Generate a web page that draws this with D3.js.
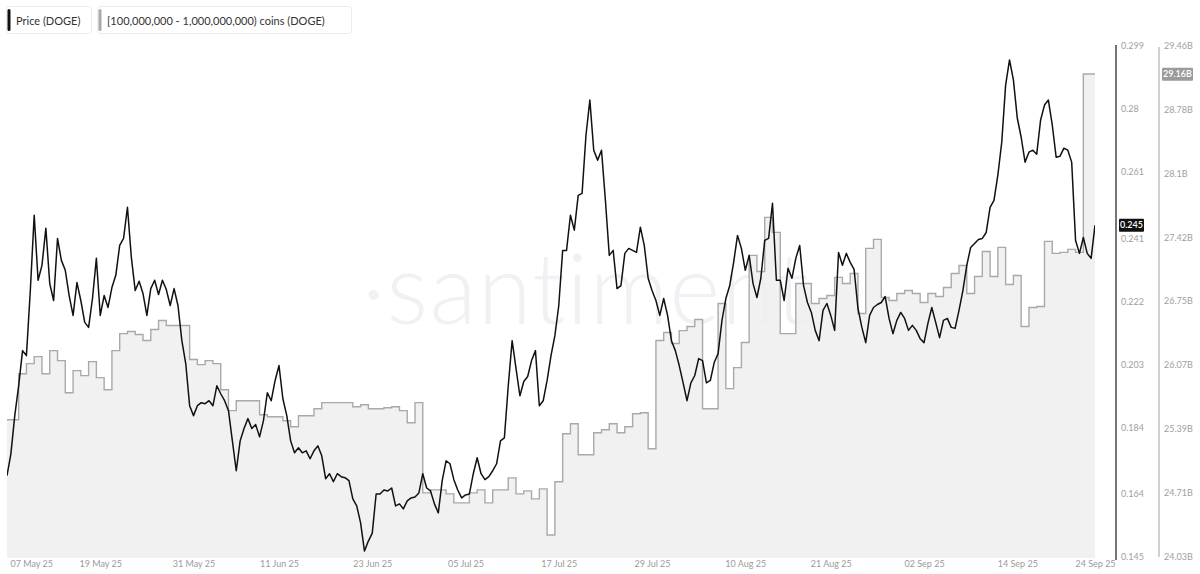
<!DOCTYPE html>
<html><head><meta charset="utf-8">
<script src="https://cdn.jsdelivr.net/npm/d3@7"></script>
<style>
html,body{margin:0;padding:0;background:#fff;}
svg{display:block;font-family:Lato,"Liberation Sans",Arial,sans-serif;}
</style></head><body>
<svg id="chart" width="1200" height="574"></svg>
<script>
// ---------- DATA ----------
const seriesNames = ["Price (DOGE)", "[100,000,000 - 1,000,000,000) coins (DOGE)"];

// DOGE price (USD), one reading every 12 hours from 07 May 2025 00:00
const priceStart = "2025-05-07T00:00:00";
const priceStepHours = 12;
const priceValues = [
  0.1695,0.1761,0.1876,0.1966,0.2072,0.2057,0.2253,0.2480,0.2284,0.2329,
  0.2441,0.2274,0.2223,0.2410,0.2344,0.2314,0.2238,0.2178,0.2277,0.2223,
  0.2157,0.2142,0.2229,0.2350,0.2178,0.2238,0.2202,0.2262,0.2299,0.2389,
  0.2410,0.2504,0.2353,0.2253,0.2281,0.2244,0.2178,0.2259,0.2284,0.2241,
  0.2284,0.2256,0.2208,0.2259,0.2208,0.2102,0.2033,0.1906,0.1876,0.1906,
  0.1915,0.1912,0.1921,0.1906,0.1966,0.1942,0.1921,0.1891,0.1800,0.1710,
  0.1800,0.1837,0.1867,0.1837,0.1849,0.1812,0.1861,0.1945,0.1921,0.1982,
  0.2027,0.1927,0.1876,0.1800,0.1764,0.1779,0.1764,0.1770,0.1746,0.1770,
  0.1785,0.1755,0.1686,0.1701,0.1677,0.1701,0.1692,0.1689,0.1680,0.1625,
  0.1604,0.1553,0.1468,0.1498,0.1522,0.1640,0.1640,0.1652,0.1649,0.1658,
  0.1604,0.1610,0.1595,0.1619,0.1628,0.1631,0.1643,0.1701,0.1658,0.1649,
  0.1610,0.1583,0.1680,0.1740,0.1731,0.1683,0.1652,0.1628,0.1637,0.1640,
  0.1701,0.1749,0.1701,0.1683,0.1692,0.1710,0.1731,0.1800,0.1809,0.1966,
  0.2102,0.2018,0.1936,0.1979,0.1994,0.2042,0.2072,0.1906,0.1921,0.1982,
  0.2057,0.2117,0.2208,0.2374,0.2374,0.2480,0.2435,0.2540,0.2546,0.2721,
  0.2827,0.2676,0.2646,0.2676,0.2525,0.2359,0.2374,0.2259,0.2268,0.2365,
  0.2380,0.2374,0.2368,0.2444,0.2389,0.2290,0.2253,0.2223,0.2178,0.2229,
  0.2178,0.2102,0.2072,0.2027,0.1975,0.1921,0.1975,0.1997,0.2048,0.2042,
  0.1975,0.1982,0.2036,0.2063,0.2163,0.2229,0.2268,0.2338,0.2419,0.2380,
  0.2314,0.2359,0.2274,0.2232,0.2290,0.2404,0.2410,0.2516,0.2284,0.2284,
  0.2223,0.2320,0.2290,0.2350,0.2389,0.2268,0.2217,0.2187,0.2133,0.2102,
  0.2193,0.2214,0.2178,0.2133,0.2368,0.2329,0.2365,0.2338,0.2317,0.2199,
  0.2142,0.2096,0.2178,0.2202,0.2211,0.2217,0.2235,0.2169,0.2123,0.2163,
  0.2187,0.2169,0.2133,0.2148,0.2133,0.2108,0.2096,0.2154,0.2202,0.2157,
  0.2111,0.2163,0.2169,0.2142,0.2139,0.2193,0.2253,0.2329,0.2383,0.2395,
  0.2407,0.2410,0.2428,0.2504,0.2525,0.2601,0.2700,0.2872,0.2948,0.2888,
  0.2773,0.2715,0.2640,0.2670,0.2676,0.2664,0.2767,0.2812,0.2827,0.2752,
  0.2655,0.2658,0.2682,0.2676,0.2640,0.2404,0.2365,0.2413,0.2365,0.2350,
  0.2450
];

// Coins held by 100M-1B wallets (billions DOGE), daily readings from 06 May 2025 12:00
const coinStart = "2025-05-06T12:00:00";
const coinStepHours = 24;
const coinValues = [
  25.489,25.489,25.978,26.085,26.159,25.978,26.223,26.117,25.776,26.010,
  25.957,26.106,25.936,25.808,26.223,26.404,26.426,26.394,26.330,26.447,
  26.543,26.490,26.490,26.490,26.128,26.074,26.117,26.085,25.808,25.585,
  25.691,25.691,25.691,25.542,25.521,25.521,25.478,25.414,25.531,25.531,
  25.606,25.670,25.670,25.670,25.670,25.627,25.648,25.606,25.606,25.616,
  25.627,25.585,25.457,25.670,24.711,24.743,24.743,24.701,24.605,24.605,
  24.711,24.743,24.605,24.743,24.743,24.871,24.701,24.733,24.648,24.754,
  24.264,24.829,25.340,25.446,25.116,25.116,25.350,25.382,25.446,25.350,
  25.414,25.553,25.563,25.180,26.330,26.415,26.298,26.436,26.479,26.553,
  25.606,25.606,26.724,25.819,26.042,26.309,27.235,27.064,27.639,27.480,
  26.404,26.404,26.937,26.937,26.724,26.777,26.809,27.001,26.937,27.043,
  26.617,27.309,27.405,26.788,26.756,26.830,26.862,26.830,26.734,26.830,
  26.798,26.894,27.043,27.128,26.830,27.011,27.277,27.011,27.320,26.926,
  27.022,26.479,26.681,26.692,27.384,27.256,27.267,27.299,27.267,29.162,
  29.162
];

const xDomain = ["2025-05-07T00:00:00", "2025-09-24T00:00:00"];
const xTickLabels = ["07 May 25","19 May 25","31 May 25","11 Jun 25","23 Jun 25","05 Jul 25",
  "17 Jul 25","29 Jul 25","10 Aug 25","21 Aug 25","02 Sep 25","14 Sep 25","24 Sep 25"];
const priceTicks = [0.145,0.164,0.184,0.203,0.222,0.241,0.261,0.28,0.299];
const coinTicks = [24.03,24.71,25.39,26.07,26.75,27.42,28.1,28.78,29.46];
const lastPrice = 0.245;
const lastCoins = 29.16;

// ---------- CHART ----------
const svg = d3.select("#chart");
const L = 7, R = 1095, T = 46, B = 557;

const parseTick = d3.timeParse("%d %b %y");
const x = d3.scaleTime().domain(xDomain.map(s => new Date(s))).range([L, R]);
const yP = d3.scaleLinear().domain([0.145, 0.299]).range([B, T]);
const yC = d3.scaleLinear().domain([24.03, 29.46]).range([B, T]);

const p0 = new Date(priceStart);
const priceData = priceValues.map((v, i) => ({d: d3.timeHour.offset(p0, i * priceStepHours), v}));
const c0 = new Date(coinStart);
const coinData = coinValues.map((v, i) => ({d: d3.timeHour.offset(c0, i * coinStepHours), v}));
coinData.push({d: x.domain()[1], v: coinValues[coinValues.length - 1]});

svg.append("defs").append("clipPath").attr("id", "plotclip")
  .append("rect").attr("x", L).attr("y", 0).attr("width", R - L).attr("height", B + 2);

// watermark
svg.append("text").attr("x", 586).attr("y", 324).attr("text-anchor", "middle")
  .attr("font-size", 98).attr("font-weight", 300).attr("fill", "#eff1f4")
  .attr("letter-spacing", 1).text("\u00B7santiment");

const plot = svg.append("g").attr("clip-path", "url(#plotclip)");

plot.append("path").datum(coinData)
  .attr("d", d3.area().curve(d3.curveStepAfter).x(d => x(d.d)).y0(B + 1).y1(d => yC(d.v)))
  .attr("fill", "#efefef").attr("fill-opacity", 0.85);
plot.append("path").datum(coinData)
  .attr("d", d3.line().curve(d3.curveStepAfter).x(d => x(d.d)).y(d => yC(d.v)))
  .attr("fill", "none").attr("stroke", "#a9a9a9").attr("stroke-width", 1.4);

plot.append("path").datum(priceData)
  .attr("d", d3.line().x(d => x(d.d)).y(d => yP(d.v)))
  .attr("fill", "none").attr("stroke", "#111").attr("stroke-width", 1.5)
  .attr("stroke-linejoin", "round");

// x axis labels
const xAxis = svg.append("g").attr("transform", `translate(0,${B})`)
  .call(d3.axisBottom(x).tickValues(xTickLabels.map(parseTick))
    .tickFormat(d3.timeFormat("%d %b %y")).tickSize(0).tickPadding(4));
xAxis.select(".domain").remove();
xAxis.selectAll("text").attr("fill", "#9a9a9a").attr("font-size", 9)
  .attr("font-family", "Lato,'Liberation Sans',Arial,sans-serif");
xAxis.selectAll(".tick").filter((d, i) => i === 0).select("text")
  .attr("text-anchor", "start").attr("dx", 3);

// price axis
const pAxis = svg.append("g").attr("transform", "translate(1116,0)")
  .call(d3.axisRight(yP).tickValues(priceTicks).tickFormat(d => String(d)).tickSize(0).tickSizeOuter(0).tickPadding(5));
pAxis.select(".domain").attr("stroke", "#3a3a3a").attr("stroke-width", 1.4)
  .attr("d", `M0,${T - 1}V${B + 3}`);
pAxis.selectAll("text").attr("fill", "#a0a0a0").attr("font-size", 9)
  .attr("font-family", "Lato,'Liberation Sans',Arial,sans-serif");

// coin axis
const cAxis = svg.append("g").attr("transform", "translate(1159,0)")
  .call(d3.axisRight(yC).tickValues(coinTicks).tickFormat(d => d + "B").tickSize(0).tickSizeOuter(0).tickPadding(5));
cAxis.select(".domain").attr("stroke", "#b0b0b0").attr("stroke-width", 1.2)
  .attr("d", `M0,${T + 1}V${B}`);
cAxis.selectAll("text").attr("fill", "#a0a0a0").attr("font-size", 9)
  .attr("font-family", "Lato,'Liberation Sans',Arial,sans-serif");

// last value badges
function badge(xPos, yPos, txt, bg, w) {
  const g = svg.append("g").attr("transform", `translate(${xPos},${yPos})`);
  g.append("rect").attr("x", 0).attr("y", -6.5).attr("width", w).attr("height", 13).attr("fill", bg).attr("rx", 1);
  g.append("text").attr("x", w / 2).attr("y", 3.2).attr("text-anchor", "middle")
    .attr("font-size", 9).attr("fill", "#fff").attr("font-weight", 600).text(txt);
}
badge(1119, yP(lastPrice), String(lastPrice), "#111", 25);
badge(1162, yC(lastCoins), lastCoins + "B", "#9b9b9b", 31);

// legend
const legendColors = ["#111", "#a9a9a9"];
const legendX = [6, 97];
const legendW = [85, 254];
seriesNames.forEach((name, i) => {
  const g = svg.append("g").attr("transform", `translate(${legendX[i]},6)`);
  g.append("rect").attr("x", 0.5).attr("y", 0.5).attr("width", legendW[i]).attr("height", 27)
    .attr("rx", 3).attr("fill", "#fff").attr("stroke", "#ececec");
  g.append("rect").attr("x", 1.5).attr("y", 3).attr("width", 3).attr("height", 22)
    .attr("rx", 1.5).attr("fill", legendColors[i]);
  g.append("text").attr("x", 10).attr("y", 18.5).attr("font-size", 11).attr("fill", "#333").text(name);
});
</script>
</body></html>
